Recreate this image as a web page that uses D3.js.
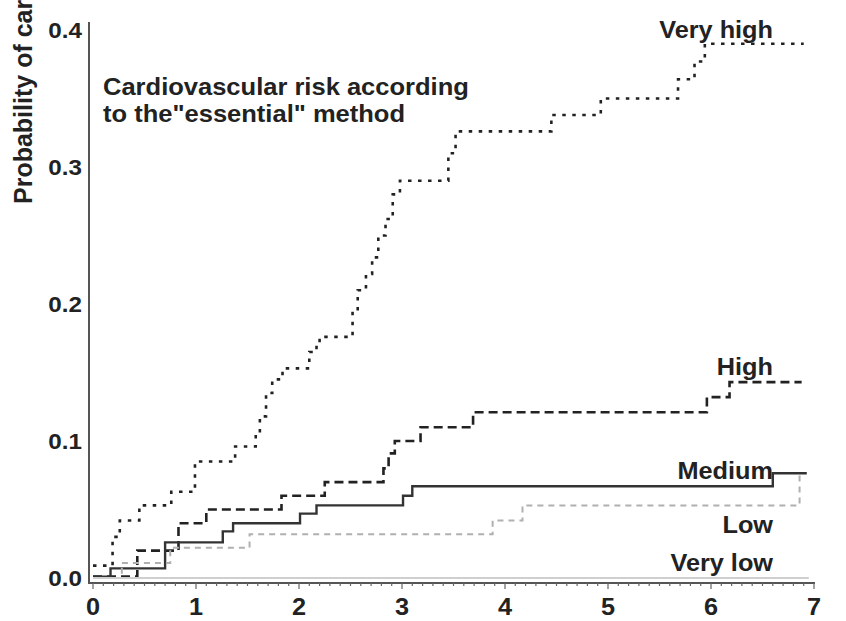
<!DOCTYPE html>
<html>
<head>
<meta charset="utf-8">
<script src="https://cdn.jsdelivr.net/npm/d3@7"></script>
<style>
  body { margin: 0; background: #fff; }
  text { font-family: "Liberation Sans", Arial, sans-serif; font-weight: bold; fill: #222; }
</style>
</head>
<body>
<svg></svg>
<script>
const width = 846;
const height = 621;

// step times (years) and cumulative probability after each step
const veryHighTimes = [0, 0.19, 0.26, 0.45, 0.76, 0.99, 1.38, 1.58, 1.62, 1.68, 1.74, 1.84, 2.1, 2.17, 2.2, 2.52, 2.57, 2.65, 2.71, 2.77, 2.84, 2.91, 2.98, 3.45, 3.52, 4.45, 4.93, 5.68, 5.84, 5.94];
const veryHighProbs = [0.009, 0.03, 0.042, 0.053, 0.063, 0.085, 0.096, 0.105, 0.118, 0.135, 0.145, 0.153, 0.165, 0.17, 0.176, 0.195, 0.21, 0.222, 0.234, 0.25, 0.262, 0.28, 0.29, 0.31, 0.326, 0.338, 0.35, 0.364, 0.377, 0.39];

const highTimes = [0, 0.43, 0.83, 1.1, 1.83, 2.25, 2.82, 2.87, 2.93, 3.18, 3.69, 5.96, 6.18];
const highProbs = [0.001, 0.02, 0.04, 0.05, 0.06, 0.07, 0.08, 0.091, 0.1, 0.11, 0.121, 0.132, 0.143];

const mediumTimes = [0, 0.17, 0.7, 1.26, 1.36, 2.01, 2.17, 3.01, 3.1, 6.6];
const mediumProbs = [0.001, 0.007, 0.026, 0.034, 0.04, 0.047, 0.053, 0.06, 0.067, 0.0765];

const lowTimes = [0, 0.28, 0.75, 1.52, 3.88, 4.17, 6.86];
const lowProbs = [0, 0.011, 0.022, 0.032, 0.042, 0.053, 0.074];

const veryLowTimes = [0];
const veryLowProbs = [0];

const endTimes = { "Very high": 6.9, "High": 6.88, "Medium": 6.93, "Low": 6.87, "Very low": 6.95 };

const xTicks = [0, 1, 2, 3, 4, 5, 6, 7];
const yTicks = [0, 0.1, 0.2, 0.3, 0.4];
const yTickLabels = ["0.0", "0.1", "0.2", "0.3", "0.4"];

const series = [
  { name: "Very high", times: veryHighTimes, probs: veryHighProbs, color: "#222", width: 2.6, dash: "3.5,6.5", labelDy: -6 },
  { name: "High", times: highTimes, probs: highProbs, color: "#222", width: 2.6, dash: "9,5", labelDy: -7 },
  { name: "Medium", times: mediumTimes, probs: mediumProbs, color: "#333", width: 2.4, dash: null, labelDy: 6 },
  { name: "Low", times: lowTimes, probs: lowProbs, color: "#b0b0b0", width: 2, dash: "6,5", labelDy: 56 },
  { name: "Very low", times: veryLowTimes, probs: veryLowProbs, color: "#cfcfcf", width: 2, dash: null, labelDy: -7 }
];

const fontSize = 22;
const stretch = 1.1;

const svg = d3.select('svg')
  .attr('width', width)
  .attr('height', height);

const x = d3.scaleLinear().domain([0, 7]).range([93, 814]);
const y = d3.scaleLinear().domain([0, 0.4]).range([578, 30]);

function wideText(g, str, tx, ty, anchor, size, sx) {
  return g.append("text")
    .attr("transform", `translate(${tx},${ty}) scale(${sx || stretch},1)`)
    .attr("text-anchor", anchor || "start")
    .style("font-size", (size || fontSize) + "px")
    .text(str);
}

// axes
const axisY = 583;
svg.append("line")
  .attr("x1", 89).attr("x2", 89)
  .attr("y1", 22).attr("y2", axisY + 1)
  .attr("stroke", "#555").attr("stroke-width", 2);

svg.append("line")
  .attr("x1", 89).attr("x2", x(7) + 1)
  .attr("y1", axisY).attr("y2", axisY)
  .attr("stroke", "#555").attr("stroke-width", 2);

const minorTicks = d3.range(0, 71).map(d => d / 10);
svg.append("g").selectAll("line")
  .data(minorTicks)
  .enter().append("line")
    .attr("x1", d => x(d)).attr("x2", d => x(d))
    .attr("y1", axisY)
    .attr("y2", (d, i) => i % 10 === 0 ? axisY + 6 : axisY + 3)
    .attr("stroke", "#666").attr("stroke-width", 1.2);

const xLabels = svg.append("g");
xTicks.forEach(t => wideText(xLabels, String(t), x(t), 615, "middle", 23));

const yLabels = svg.append("g");
yTicks.forEach((v, i) => wideText(yLabels, yTickLabels[i], 82, y(v) + 8, "end"));

// axis title runs off the top edge, as in the original figure
svg.append("text")
  .attr("transform", "translate(32,204) rotate(-90)")
  .style("font-size", "25px")
  .text("Probability of cardiovascular events");

// annotation
wideText(svg, "Cardiovascular risk according", 103, 95, "start", 23, 1.11);
wideText(svg, "to the\"essential\" method", 103, 122, "start", 23, 1.11);

// curves
const line = d3.line()
  .x(d => x(d.t))
  .y(d => y(d.p))
  .curve(d3.curveStepAfter);

series.forEach(s => {
  const pts = s.times.map((t, i) => ({ t: t, p: s.probs[i] }));
  pts.push({ t: endTimes[s.name], p: s.probs[s.probs.length - 1] });
  svg.append("path")
    .datum(pts)
    .attr("fill", "none")
    .attr("stroke", s.color)
    .attr("stroke-width", s.width)
    .attr("stroke-dasharray", s.dash)
    .attr("d", line);

  const last = s.probs[s.probs.length - 1];
  wideText(svg, s.name, 773, y(last) + s.labelDy, "end", 23);
});
</script>
</body>
</html>
